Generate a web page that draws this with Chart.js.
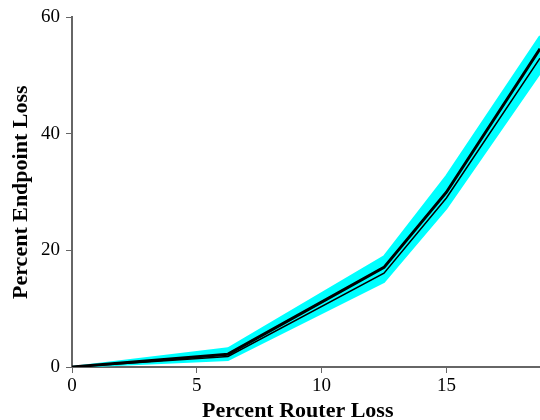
<!DOCTYPE html>
<html>
<head>
<meta charset="utf-8">
<script src="https://cdn.jsdelivr.net/npm/chart.js@4/dist/chart.umd.min.js"></script>
<style>
  html, body { margin: 0; padding: 0; background: #fff; }
  #wrap { width: 540px; height: 420px; }
</style>
</head>
<body>
<div id="wrap"><canvas id="loss-chart"></canvas></div>
<script>
// router loss (%) at which endpoint loss was measured
const routerLoss = [0, 6.25, 12.5, 15, 18.75];
// band (upper / lower bound) and the two mean curves
const bandUpper = [0, 3.2, 19.0, 32.8, 56.8];
const bandLower = [0, 1.2, 14.6, 27.2, 50.4];
const meanA = [0, 2.2, 17.1, 30.0, 54.6];
const meanB = [0, 1.8, 16.1, 29.0, 53.0];
const xTicks = [0, 5, 10, 15];
const yTicks = [0, 20, 40, 60];

function pts(ys) {
   return routerLoss.map((x, i) => ({ x: x, y: ys[i] }));
}

Chart.defaults.font.family = "'Liberation Serif', 'Times New Roman', serif";
Chart.defaults.color = "#000";

const ctx = document.getElementById("loss-chart").getContext("2d");
const lossChart = new Chart(ctx, {
   type: "line",
   data: {
      datasets: [
         {
            label: "upper",
            data: pts(bandUpper),
            borderColor: "#00ffff",
            backgroundColor: "#00ffff",
            borderWidth: 2,
            fill: "+1",
            order: 2,
         },
         {
            label: "lower",
            data: pts(bandLower),
            borderColor: "#00ffff",
            backgroundColor: "#00ffff",
            borderWidth: 2,
            fill: false,
            order: 2,
         },
         {
            label: "mean A",
            data: pts(meanA),
            borderColor: "#000",
            borderWidth: 3,
            fill: false,
            order: 0,
         },
         {
            label: "mean B",
            data: pts(meanB),
            borderColor: "#000",
            borderWidth: 1.5,
            fill: false,
            order: 1,
         },
      ],
   },
   options: {
      responsive: true,
      maintainAspectRatio: false,
      animation: false,
      layout: { padding: { top: 16, right: 0, left: 0, bottom: 0 } },
      elements: { point: { radius: 0 }, line: { tension: 0 } },
      plugins: { legend: { display: false }, tooltip: { enabled: false } },
      scales: {
         x: {
            type: "linear",
            min: 0,
            max: 18.75,
            afterBuildTicks: (s) => { s.ticks = xTicks.map(v => ({ value: v })); },
            afterFit: (s) => { s.height = 53; },
            grid: { drawOnChartArea: false, drawTicks: true, tickLength: 6, color: "#666" },
            border: { color: "#666", width: 2 },
            ticks: { font: { size: 19 }, padding: 2, maxRotation: 0 },
            title: {
               display: true,
               text: "Percent Router Loss   ",
               font: { size: 22, weight: "bold" },
               padding: { top: 0, bottom: -5 },
            },
         },
         y: {
            type: "linear",
            min: 0,
            max: 60,
            afterBuildTicks: (s) => { s.ticks = yTicks.map(v => ({ value: v })); },
            afterFit: (s) => { s.width = 72; },
            grid: { drawOnChartArea: false, drawTicks: true, tickLength: 6, color: "#666" },
            border: { color: "#666", width: 2 },
            ticks: { font: { size: 19 }, padding: 6 },
            title: {
               display: true,
               text: "Percent Endpoint Loss",
               font: { size: 22, weight: "bold" },
               padding: { top: 8, bottom: 0 },
            },
         },
      },
   },
});
</script>
</body>
</html>
